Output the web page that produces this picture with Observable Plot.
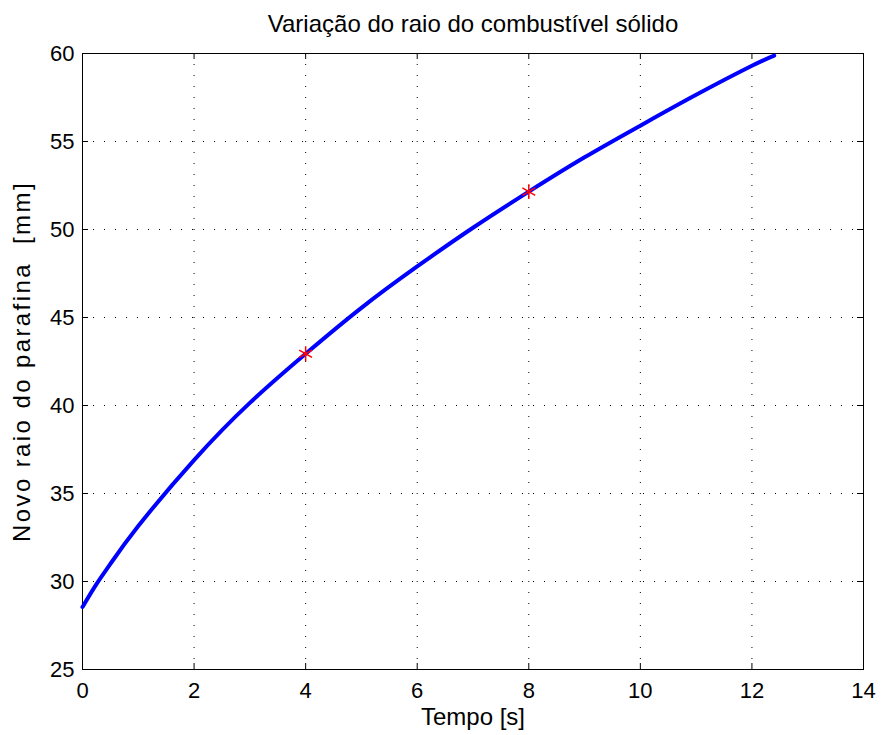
<!DOCTYPE html>
<html>
<head>
<meta charset="utf-8">
<script src="https://cdn.jsdelivr.net/npm/d3@7"></script>
<script src="https://cdn.jsdelivr.net/npm/@observablehq/plot@0.6"></script>
<style>
  html, body { margin: 0; padding: 0; background: #fff; }
</style>
</head>
<body>
<div id="chart"></div>
<script>
// Data
const tempo = [0, 0.25, 0.5, 1, 2, 3, 4, 5, 6, 7, 8, 9, 10, 11, 12, 12.4];
const raio  = [28.55, 29.85, 31.0, 33.15, 36.9, 40.15, 42.94, 45.55, 47.9, 50.1, 52.15, 54.1, 55.9, 57.65, 59.3, 59.88];
const markTempo = [4, 8];
const markRaio  = [42.94, 52.15];
const xTicks = [0, 2, 4, 6, 8, 10, 12, 14];
const yTicks = [25, 30, 35, 40, 45, 50, 55, 60];
const titulo = "Variação do raio do combustível sólido";
const xLabel = "Tempo [s]";
const yLabel = "Novo raio do parafina  [mm]";

const W = 881, H = 735;
const mL = 82, mR = 18, mT = 53, mB = 66;
const plotW = W - mL - mR, plotH = H - mT - mB;

const curve = tempo.map((t, i) => ({t, r: raio[i]}));
const marks = markTempo.map((t, i) => ({t, r: markRaio[i]}));

const chart = Plot.plot({
  width: W,
  height: H,
  marginLeft: mL,
  marginRight: mR,
  marginTop: mT,
  marginBottom: mB,
  style: {fontFamily: "'Liberation Sans', Arial, sans-serif", fontSize: "22px", color: "#000", background: "#fff"},
  x: {domain: [0, 14], ticks: xTicks},
  y: {domain: [25, 60], ticks: yTicks},
  marks: [
    Plot.gridX(xTicks.slice(1, -1), {stroke: "#000", strokeOpacity: 1, strokeDasharray: "1,10"}),
    Plot.gridY(yTicks.slice(1, -1), {stroke: "#000", strokeOpacity: 1, strokeDasharray: "1,10"}),
    // inward ticks
    Plot.ruleX(xTicks, {x: d => d, insetTop: plotH - 6, stroke: "#000"}),
    Plot.ruleX(xTicks, {x: d => d, insetBottom: plotH - 6, stroke: "#000"}),
    Plot.ruleY(yTicks, {y: d => d, insetRight: plotW - 6, stroke: "#000"}),
    Plot.ruleY(yTicks, {y: d => d, insetLeft: plotW - 6, stroke: "#000"}),
    Plot.axisX(xTicks, {tickSize: 0, tickPadding: 13, label: null, fontSize: 22}),
    Plot.axisY(yTicks, {tickSize: 0, tickPadding: 8, label: null, fontSize: 22}),
    Plot.frame({stroke: "#000", strokeWidth: 1}),
    Plot.line(curve, {x: "t", y: "r", stroke: "#0000ff", strokeWidth: 4, curve: "natural"}),
    Plot.dot(marks, {x: "t", y: "r", symbol: "asterisk", r: 7, stroke: "#ff0000", strokeWidth: 1.5}),
    Plot.text([titulo], {frameAnchor: "top", textAnchor: "middle", lineAnchor: "middle", dy: -29, fontSize: 24, fill: "#000"}),
    Plot.text([xLabel], {frameAnchor: "bottom", textAnchor: "middle", lineAnchor: "middle", dy: 48, fontSize: 24, fill: "#000"}),
    Plot.text([yLabel], {frameAnchor: "left", textAnchor: "middle", lineAnchor: "middle", dx: -60, rotate: -90, fontSize: 24, fill: "#000"})
  ]
});
d3.select(chart).selectAll("text")
  .filter(function () { return this.textContent === yLabel; })
  .style("letter-spacing", "2.4px");
document.getElementById("chart").appendChild(chart);
</script>
</body>
</html>
